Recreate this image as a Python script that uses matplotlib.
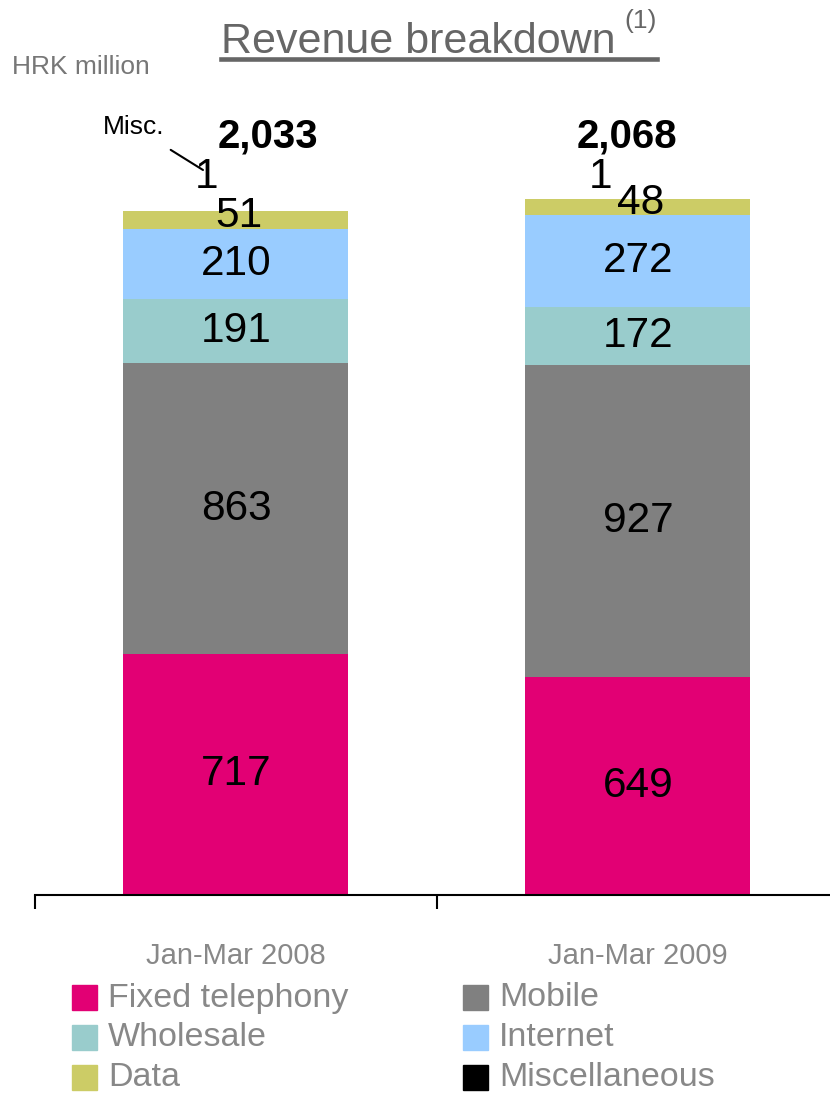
import matplotlib.pyplot as plt
import numpy as np

plt.rcParams['font.family'] = ['Liberation Sans', 'DejaVu Sans']

periods = ['Jan-Mar 2008', 'Jan-Mar 2009']
segments = ['Fixed telephony', 'Mobile', 'Wholesale', 'Internet', 'Data', 'Miscellaneous']
fixed = [717, 649]
mobile = [863, 927]
wholesale = [191, 172]
internet = [210, 272]
data = [51, 48]
misc = [1, 1]
totals = ['2,033', '2,068']
colors = ['#e20074', '#808080', '#99cccc', '#99ccff', '#cccc66', '#000000']

series = [fixed, mobile, wholesale, internet, data, misc]

W, H = 830, 1095
fig = plt.figure(figsize=(W / 100, H / 100), dpi=100)
ax = fig.add_axes([35 / W, 1 - 895 / H, 795 / W, 795 / H])

x = np.arange(len(periods))
bottom = np.zeros(len(periods))
for vals, col, name in zip(series, colors, segments):
    ax.bar(x, vals, width=0.56, bottom=bottom, color=col, label=name)
    # values inside the bigger segments
    if name not in ('Data', 'Miscellaneous'):
        for i, v in enumerate(vals):
            ax.text(x[i], bottom[i] + v / 2, str(v), ha='center', va='center',
                    fontsize=30.5, color='black')
    bottom = bottom + np.array(vals)

# small segments get their labels stacked above the bar
data_bottom = np.array(fixed) + np.array(mobile) + np.array(wholesale) + np.array(internet)
one_dx = [-29, -37]
tot_dx = [32, -11]
top = bottom.max()
for i in range(len(periods)):
    ax.annotate(str(data[i]), xy=(x[i], data_bottom[i] + data[i] / 2),
                xytext=(3, 4), textcoords='offset pixels',
                ha='center', va='center', fontsize=30.5)
    ax.annotate(str(misc[i]), xy=(x[i], top), xytext=(one_dx[i], 22),
                textcoords='offset pixels', ha='center', va='center',
                fontsize=30.5)
    ax.annotate(totals[i], xy=(x[i], top), xytext=(tot_dx[i], 62),
                textcoords='offset pixels', ha='center', va='center',
                fontsize=29, fontweight='bold')

# "Misc." callout
ax.annotate('Misc.', xy=(203, H - 170), xycoords='figure pixels',
            xytext=(134, H - 127), textcoords='figure pixels',
            ha='center', va='center', fontsize=19,
            arrowprops=dict(arrowstyle='-', color='black', lw=1.5,
                            shrinkA=11, shrinkB=0))

ax.set_xticks([-0.5, 0.5, 1.5])
ax.set_xticklabels([])
ax.set_xlim(-0.5, 1.478)   # after set_xticks, which widens the limits
ax.set_ylim(0, 2363)
ax.tick_params(axis='x', direction='out', length=10, width=1.5, color='black')
ax.set_yticks([])
for s in ['top', 'right', 'left']:
    ax.spines[s].set_visible(False)
ax.spines['bottom'].set_linewidth(1.5)

for i, p in enumerate(periods):
    ax.text(x[i], -180, p, ha='center', va='center', fontsize=21, color='#888888')

# title
fig.text(221 / W, 1 - 42 / H, 'Revenue breakdown', ha='left', va='center',
         fontsize=31, color='#666666')
fig.text(624 / W, 1 - 21 / H, '(1)', ha='left', va='center',
         fontsize=19, color='#666666')
fig.add_artist(plt.Line2D([221 / W, 657 / W], [1 - 59 / H] * 2,
                          color='#666666', lw=3.3))
fig.text(12 / W, 1 - 67 / H, 'HRK million', ha='left', va='center',
         fontsize=19, color='#777777')

# legend, two columns filled row by row
for k, (name, col) in enumerate(zip(segments, colors)):
    row, c = divmod(k, 2)
    x0 = [72, 463][c]
    yc = 998 + 40 * row
    fig.add_artist(plt.Rectangle((x0 / W, 1 - (yc + 12) / H), 25 / W, 25 / H,
                                 color=col, transform=fig.transFigure))
    fig.text((x0 + 36) / W, 1 - yc / H, name, ha='left', va='center',
             fontsize=24.5, color='#888888')

plt.savefig('out.png', dpi=100)
